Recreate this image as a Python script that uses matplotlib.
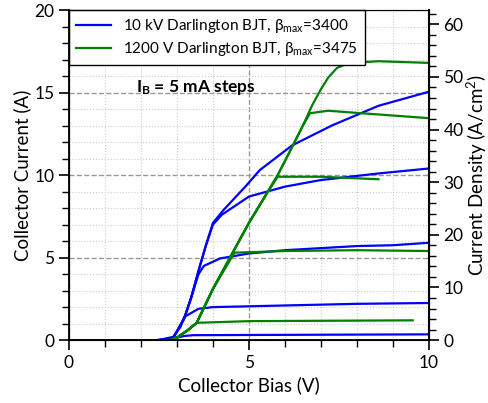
import matplotlib
matplotlib.use('Agg')
import matplotlib.pyplot as plt
from matplotlib.ticker import MultipleLocator

plt.rcParams['font.family'] = ['Lato', 'DejaVu Sans']
plt.rcParams['mathtext.fontset'] = 'custom'
plt.rcParams['mathtext.rm'] = 'Lato'
plt.rcParams['mathtext.bf'] = 'Lato:bold'
plt.rcParams['mathtext.default'] = 'regular'

# 10 kV Darlington BJT, one curve per base current step
blue_v = [
    [0, 2.4, 2.9, 3.2, 3.45, 6.0, 10.0],
    [0, 2.5, 2.9, 3.1, 3.2, 3.6, 4.0, 6.0, 8.0, 10.0],
    [0, 2.5, 2.9, 3.2, 3.4, 3.6, 3.75, 4.2, 5.0, 6.0, 8.0, 9.0, 10.0],
    [0, 2.5, 2.9, 3.2, 3.4, 3.6, 3.8, 4.0, 4.25, 5.0, 6.0, 7.0, 8.6, 10.0],
    [0, 2.5, 2.9, 3.2, 3.4, 3.6, 3.8, 4.0, 4.3, 4.6, 4.9, 5.3, 6.2, 7.3, 8.6, 10.0],
]
blue_i = [
    [0, 0, 0.1, 0.25, 0.3, 0.32, 0.35],
    [0, 0, 0.2, 0.8, 1.4, 1.9, 2.0, 2.1, 2.2, 2.25],
    [0, 0, 0.15, 1.3, 2.6, 4.0, 4.5, 4.95, 5.25, 5.45, 5.7, 5.75, 5.9],
    [0, 0, 0.15, 1.3, 2.6, 4.2, 5.7, 7.0, 7.6, 8.7, 9.3, 9.7, 10.1, 10.4],
    [0, 0, 0.15, 1.3, 2.6, 4.2, 5.7, 7.1, 7.9, 8.6, 9.3, 10.3, 11.8, 13.0, 14.2, 15.05],
]

# 1200 V Darlington BJT
green_v = [
    [0, 2.8, 3.0, 3.3, 3.55, 5.0, 9.55],
    [0, 2.8, 3.0, 3.3, 3.55, 4.0, 4.6, 6.0, 8.0, 10.0],
    [0, 2.8, 3.0, 3.3, 3.55, 4.0, 4.5, 5.0, 5.5, 5.8, 7.0, 8.6],
    [0, 2.8, 3.0, 3.3, 3.55, 4.0, 4.5, 5.0, 5.5, 5.8, 6.2, 6.5, 6.7, 7.2, 10.0],
    [0, 2.8, 3.0, 3.3, 3.55, 4.0, 4.5, 5.0, 5.5, 5.8, 6.2, 6.5, 6.75, 7.0, 7.2, 7.45, 7.8, 8.6, 10.0],
]
green_i = [
    [0, 0, 0.15, 0.6, 1.05, 1.15, 1.2],
    [0, 0, 0.15, 0.6, 1.05, 3.1, 5.3, 5.4, 5.45, 5.4],
    [0, 0, 0.15, 0.6, 1.05, 3.1, 5.1, 7.1, 8.9, 9.9, 9.9, 9.75],
    [0, 0, 0.15, 0.6, 1.05, 3.1, 5.1, 7.1, 8.9, 10.0, 11.7, 13.0, 13.75, 13.9, 13.45],
    [0, 0, 0.15, 0.6, 1.05, 3.1, 5.1, 7.1, 8.9, 10.0, 11.7, 13.0, 14.2, 15.2, 15.9, 16.5, 16.8, 16.9, 16.8],
]

labels = ['10 kV Darlington BJT, β$_{max}$=3400',
          '1200 V Darlington BJT, β$_{max}$=3475']

fig = plt.figure(figsize=(4.89, 4.03), dpi=100)
ax = fig.add_axes([0.141, 0.156, 0.736, 0.819])

for k in range(len(blue_v)):
    ax.plot(blue_v[k], blue_i[k], color='#0000ff', lw=1.6,
            label=labels[0] if k == 0 else None)
for k in range(len(green_v)):
    ax.plot(green_v[k], green_i[k], color='#008000', lw=1.6,
            label=labels[1] if k == 0 else None)

ax.set_xlim(0, 10)
ax.set_ylim(0, 20)
ax.xaxis.set_major_locator(MultipleLocator(5))
ax.xaxis.set_minor_locator(MultipleLocator(1))
ax.yaxis.set_major_locator(MultipleLocator(5))
ax.yaxis.set_minor_locator(MultipleLocator(1))
ax.grid(True, which='major', color='#999999', ls='--', lw=1.0)
ax.grid(True, which='minor', color='#cccccc', ls=':', lw=0.8)
ax.tick_params(which='major', length=7, width=1.2, labelsize=12.5)
ax.tick_params(which='minor', length=5, width=1.0)
ax.set_xlabel('Collector Bias (V)', fontsize=13.5)
ax.set_ylabel('Collector Current (A)', fontsize=13.5, labelpad=2)
for s in ['left', 'bottom']:
    ax.spines[s].set_linewidth(1.3)
ax.spines['top'].set_color('#555555')

ax.text(1.85, 15.3, r'$\mathbf{I_B}$ = 5 mA steps', fontsize=12.5,
        fontweight='bold', va='center')

leg = ax.legend(loc='upper left', borderaxespad=0, fancybox=False,
                framealpha=1, edgecolor='black', fontsize=11,
                handlelength=2.3, borderpad=0.45, labelspacing=0.35)
leg.get_frame().set_linewidth(1.0)

ax2 = ax.twinx()
ax2.set_ylim(0, 62.7)
ax2.yaxis.set_major_locator(MultipleLocator(10))
ax2.yaxis.set_minor_locator(MultipleLocator(2))
ax2.tick_params(which='major', length=7, width=1.2, labelsize=12.5)
ax2.tick_params(which='minor', length=5, width=1.0)
ax2.spines['right'].set_linewidth(1.5)
ax2.set_ylabel('Current Density (A/cm$^2$)', fontsize=13.5, labelpad=1)

fig.savefig('out.png', dpi=100)
